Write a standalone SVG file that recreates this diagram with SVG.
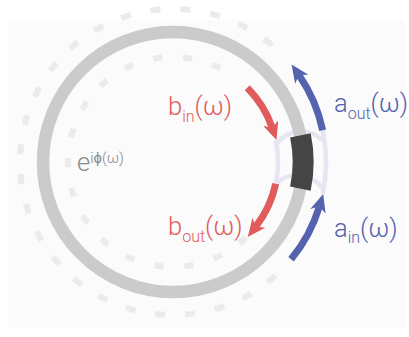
<svg xmlns="http://www.w3.org/2000/svg" width="409" height="337" viewBox="0 0 409 337">
<style>
.dash{fill:none;stroke:#ebebeb;stroke-width:6}
.ring{fill:none;stroke:#cacbca;stroke-width:12.5}
.lav{fill:none;stroke:#e8e5f3;stroke-width:4.5}
.red{fill:none;stroke:#e05b5b;stroke-width:7}
.blue{fill:none;stroke:#5562ae;stroke-width:7}
.lbl{font-family:Roboto,"Liberation Sans",sans-serif;font-weight:300;font-size:25.5px}
.sub{font-size:16px}
</style>
<defs>
<marker id="hr" markerUnits="userSpaceOnUse" markerWidth="18" markerHeight="16" viewBox="0 0 18 16" refX="5" refY="8" orient="auto"><path d="M0,0 L18,8 L0,16 L5,8 z" fill="#e05b5b"/></marker>
<marker id="hb" markerUnits="userSpaceOnUse" markerWidth="18" markerHeight="16" viewBox="0 0 18 16" refX="5" refY="8" orient="auto"><path d="M0,0 L18,8 L0,16 L5,8 z" fill="#5562ae"/></marker>
</defs>
<rect x="8" y="20" width="397" height="308" fill="#fbfbfb"/>
<g id="outer-dashed"><path class="dash" stroke-dasharray="10 20" d="M275.4,275.7 A153,153 0 1 1 279.3,51.9"/></g>
<g id="inner-dashed"><path class="dash" stroke-dasharray="9 21" d="M245.9,237.5 A105,105 0 1 1 230.2,73.9"/></g>
<g id="paths">
<path class="lav" d="M275.7,140.2 A105,105 0 0 1 275.7,183.8"/>
<path class="lav" d="M322.7,130.2 A153,153 0 0 1 322.7,193.8"/>
<path class="lav" d="M276,145 A30,30 0 0 1 322,140"/>
<path class="lav" d="M276,184 A30,30 0 0 1 322,188"/>
</g>
<g id="ring"><circle class="ring" cx="173" cy="162" r="130"/></g>
<g id="coupler"><path d="M300.4,135.4 A130,130 0 0 1 300.4,188.6" fill="none" stroke="#454545" stroke-width="21"/></g>
<g id="connectors">
<path class="red" marker-end="url(#hr)" d="M247.25,87.75 A105,105 0 0 1 272.28,127.81"/>
<path class="red" marker-end="url(#hr)" d="M275.7,183.83 A105,105 0 0 1 255.74,226.65"/>
<path class="blue" marker-end="url(#hb)" d="M322.66,130.19 A153,153 0 0 0 298.93,75.11"/>
<path class="blue" marker-end="url(#hb)" d="M291.06,259.32 A153,153 0 0 0 319.39,206.48"/>
</g>
<g id="label-bin"><text class="lbl" x="168" y="115" fill="#e05b5b">b<tspan class="sub" dy="7">in</tspan><tspan dy="-7">(ω)</tspan></text></g>
<g id="label-bout"><text class="lbl" x="168" y="235" fill="#e05b5b">b<tspan class="sub" dy="7">out</tspan><tspan dy="-7">(ω)</tspan></text></g>
<g id="label-aout"><text class="lbl" x="334" y="112" fill="#5562ae">a<tspan class="sub" dy="7">out</tspan><tspan dy="-7">(ω)</tspan></text></g>
<g id="label-ain"><text class="lbl" x="334" y="237" fill="#5562ae">a<tspan class="sub" dy="6">in</tspan><tspan dy="-6">(ω)</tspan></text></g>
<g id="label-phase"><text class="lbl" x="77" y="171" fill="#8a8a8a">e<tspan font-size="15" dy="-8">iϕ(ω)</tspan></text></g>
</svg>
